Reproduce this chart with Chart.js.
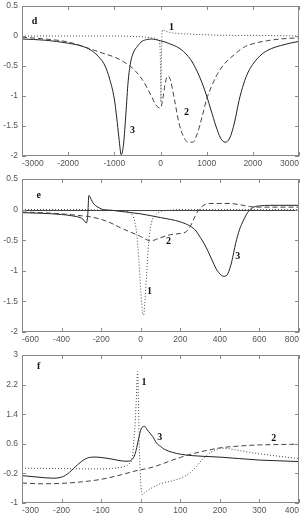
<!DOCTYPE html>
<html>
<head>
<meta charset="utf-8">
<script src="https://cdn.jsdelivr.net/npm/chart.js@4/dist/chart.umd.min.js"></script>
<style>
body{margin:0;background:#fff;width:305px;height:519px;overflow:hidden;position:relative}
.p{position:absolute;left:0;width:305px}
</style>
</head>
<body>
<div class="p" style="top:0;height:170px"><canvas id="cd"></canvas></div>
<div class="p" style="top:173px;height:173px"><canvas id="ce"></canvas></div>
<div class="p" style="top:349px;height:168px"><canvas id="cf"></canvas></div>
<script>
// panel d
const dTicksX = [-3000, -2000, -1000, 0, 1000, 2000, 3000];
const dTicksY = [-2, -1.5, -1, -0.5, 0, 0.5];
const d1x = [-3000, -1000, -500, -300, -200, -100, -50, -20, 0, 10, 20, 30, 40, 60, 100, 200, 400, 700, 1000, 1500, 2000, 3000];
const d1y = [0, 0, -0.01, -0.02, -0.03, -0.04, -0.06, -0.1, -0.5, -1.1, -0.4, 0, 0.1, 0.1, 0.085, 0.06, 0.04, 0.03, 0.02, 0.01, 0.01, 0];
const d2x = [-3000, -2500, -2000, -1500, -1200, -1000, -800, -600, -400, -300, -200, -100, -50, 0, 50, 100, 150, 200, 300, 400, 500, 600, 700, 800, 900, 1000, 1100, 1200, 1300, 1400, 1600, 1800, 2000, 2300, 2600, 3000];
const d2y = [-0.02, -0.05, -0.1, -0.22, -0.3, -0.35, -0.43, -0.54, -0.72, -0.85, -1.0, -1.15, -1.19, -1.2, -1.05, -0.8, -0.67, -0.7, -1.05, -1.45, -1.68, -1.77, -1.77, -1.62, -1.35, -1.05, -0.85, -0.68, -0.55, -0.45, -0.31, -0.19, -0.13, -0.08, -0.05, -0.03];
const d3x = [-3000, -2500, -2000, -1700, -1500, -1300, -1200, -1100, -1000, -950, -900, -850, -800, -750, -700, -650, -600, -500, -400, -300, -200, -100, 0, 100, 200, 300, 400, 500, 600, 700, 800, 900, 1000, 1100, 1200, 1300, 1400, 1500, 1600, 1700, 1800, 1900, 2000, 2200, 2400, 2600, 2800, 3000];
const d3y = [-0.05, -0.07, -0.12, -0.17, -0.24, -0.38, -0.5, -0.72, -1.05, -1.35, -1.7, -1.98, -1.8, -1.3, -0.75, -0.45, -0.3, -0.17, -0.09, -0.06, -0.05, -0.06, -0.08, -0.1, -0.13, -0.16, -0.2, -0.26, -0.34, -0.45, -0.6, -0.78, -1.0, -1.25, -1.5, -1.7, -1.77, -1.7, -1.45, -1.08, -0.8, -0.6, -0.47, -0.3, -0.21, -0.16, -0.12, -0.09];

// panel e
const eTicksX = [-600, -400, -200, 0, 200, 400, 600, 800];
const eTicksY = [-2, -1.5, -1, -0.5, 0, 0.5];
const e1x = [-600, -300, -200, -100, -60, -40, -30, -20, -10, 0, 10, 15, 20, 30, 40, 50, 60, 80, 100, 150, 200, 300, 800];
const e1y = [0, 0, -0.01, -0.02, -0.04, -0.1, -0.2, -0.4, -0.8, -1.3, -1.7, -1.72, -1.55, -1.05, -0.55, -0.28, -0.16, -0.07, -0.03, -0.01, 0, 0, 0];
const e2x = [-600, -500, -400, -300, -250, -200, -150, -100, -50, 0, 50, 100, 150, 200, 230, 250, 270, 290, 310, 330, 350, 400, 450, 500, 550, 600, 700, 800];
const e2y = [-0.04, -0.05, -0.07, -0.1, -0.12, -0.16, -0.22, -0.3, -0.37, -0.44, -0.51, -0.46, -0.41, -0.39, -0.36, -0.28, -0.14, -0.02, 0.05, 0.09, 0.1, 0.1, 0.1, 0.08, 0.05, 0.04, 0.04, 0.04];
const e3x = [-600, -500, -400, -350, -300, -285, -275, -268, -262, -255, -245, -230, -210, -190, -150, -100, 0, 100, 150, 200, 250, 280, 300, 320, 340, 360, 380, 400, 420, 440, 460, 480, 500, 520, 540, 560, 580, 600, 650, 700, 800];
const e3y = [-0.05, -0.06, -0.08, -0.1, -0.14, -0.18, -0.22, -0.1, 0.23, 0.2, 0.13, 0.07, 0.03, 0, -0.01, -0.03, -0.07, -0.13, -0.16, -0.2, -0.27, -0.35, -0.45, -0.55, -0.68, -0.82, -0.96, -1.05, -1.09, -1.05, -0.85, -0.55, -0.32, -0.17, -0.05, 0.02, 0.05, 0.06, 0.07, 0.07, 0.07];

// panel f
const fTicksX = [-300, -200, -100, 0, 100, 200, 300, 400];
const fTicksY = [-1, -0.2, 0.6, 1.4, 2.2, 3];
const f1x = [-300, -200, -100, -60, -40, -30, -20, -18, -15, -12, -10, -8, -6, -4, -2, 0, 2, 4, 8, 15, 30, 50, 80, 100, 120, 140, 155, 180, 205, 238, 280, 322, 360, 400];
const f1y = [-0.06, -0.07, -0.08, -0.05, -0.01, 0.05, 0.3, 0.6, 1.0, 1.6, 2.1, 2.55, 1.9, 0.8, 0, -0.45, -0.7, -0.78, -0.74, -0.68, -0.58, -0.48, -0.4, -0.33, -0.22, -0.02, 0.17, 0.39, 0.48, 0.44, 0.36, 0.3, 0.25, 0.2];
const f2x = [-300, -250, -200, -150, -100, -50, -20, 0, 20, 50, 80, 100, 120, 150, 180, 200, 250, 300, 350, 400];
const f2y = [-0.46, -0.48, -0.47, -0.43, -0.36, -0.24, -0.15, -0.1, -0.06, 0.04, 0.16, 0.23, 0.3, 0.38, 0.45, 0.49, 0.54, 0.57, 0.58, 0.59];
const f3x = [-300, -270, -240, -220, -200, -190, -180, -170, -160, -150, -140, -130, -120, -110, -100, -80, -60, -40, -30, -20, -15, -10, -5, 0, 5, 10, 15, 20, 30, 40, 50, 60, 80, 100, 130, 160, 200, 250, 300, 350, 400];
const f3y = [-0.26, -0.29, -0.32, -0.33, -0.3, -0.25, -0.17, -0.07, 0.03, 0.12, 0.19, 0.23, 0.24, 0.24, 0.23, 0.2, 0.16, 0.13, 0.13, 0.2, 0.3, 0.5, 0.75, 0.97, 1.06, 1.07, 1.0, 0.93, 0.8, 0.62, 0.53, 0.45, 0.37, 0.32, 0.28, 0.26, 0.24, 0.2, 0.16, 0.14, 0.12];

const frame = {
    id: 'frame',
    beforeDatasetsDraw(chart, args, opts) {
        if (!opts.zero) return;
        const {ctx, chartArea: a, scales: {y}} = chart;
        const py = Math.round(y.getPixelForValue(0)) + 0.5;
        ctx.save();
        ctx.strokeStyle = '#444';
        ctx.lineWidth = 1;
        ctx.beginPath(); ctx.moveTo(a.left, py); ctx.lineTo(a.right, py); ctx.stroke();
        ctx.restore();
    },
    afterDatasetsDraw(chart, args, opts) {
        const {ctx, chartArea: a, scales: {x, y}} = chart;
        ctx.save();
        ctx.strokeStyle = '#888';
        ctx.lineWidth = 1;
        ctx.strokeRect(a.left + 0.5, a.top + 0.5, a.right - a.left - 1, a.bottom - a.top - 1);
        ctx.beginPath();
        x.ticks.forEach(t => {
            const px = Math.round(x.getPixelForValue(t.value)) + 0.5;
            ctx.moveTo(px, a.bottom); ctx.lineTo(px, a.bottom - 4);
            ctx.moveTo(px, a.top); ctx.lineTo(px, a.top + 4);
        });
        y.ticks.forEach(t => {
            const py = Math.round(y.getPixelForValue(t.value)) + 0.5;
            ctx.moveTo(a.left, py); ctx.lineTo(a.left + 4, py);
            ctx.moveTo(a.right, py); ctx.lineTo(a.right - 4, py);
        });
        ctx.stroke();
        ctx.fillStyle = '#111';
        ctx.font = 'bold 10px "Liberation Serif"';
        ctx.textAlign = 'center';
        ctx.textBaseline = 'middle';
        opts.notes.forEach(n => ctx.fillText(n[0], x.getPixelForValue(n[1]), y.getPixelForValue(n[2])));
        ctx.restore();
    }
};

function series(xs, ys, dash, color) {
    return {
        data: xs.map((v, i) => ({x: v, y: ys[i]})),
        borderColor: color,
        borderWidth: 1,
        borderDash: dash,
        pointRadius: 0,
        cubicInterpolationMode: 'monotone',
        fill: false
    };
}

function axis(ticks, pos) {
    return {
        type: 'linear',
        position: pos,
        min: ticks[0],
        max: ticks[ticks.length - 1],
        afterBuildTicks: s => { s.ticks = ticks.map(v => ({value: v})); },
        afterFit: s => {
            if (pos === 'left') s.width = 22; else s.height = 14;
            s.paddingLeft = 0; s.paddingRight = 0; s.paddingTop = 0; s.paddingBottom = 0;
        },
        grid: {display: false, drawTicks: false},
        border: {display: false},
        ticks: {
            color: '#555',
            padding: pos === 'left' ? 4 : 3,
            align: pos === 'left' ? 'center' : 'inner',
            font: {family: '"Liberation Sans"', size: 8.5},
            maxRotation: 0,
            autoSkip: false,
            callback: v => String(v)
        }
    };
}

function panel(id, sets, tx, ty, notes, zero) {
    let ctx = document.getElementById(id).getContext('2d');
    new Chart(ctx, {
        type: 'line',
        data: {datasets: sets},
        options: {
            responsive: true,
            maintainAspectRatio: false,
            animation: false,
            layout: {padding: {left: 0, right: 6, top: 6, bottom: 0}},
            scales: {x: axis(tx, 'bottom'), y: axis(ty, 'left')},
            plugins: {
                legend: {display: false},
                tooltip: {enabled: false},
                frame: {notes: notes, zero: zero}
            }
        },
        plugins: [frame]
    });
}

panel('cd', [
    series(d1x, d1y, [1, 2], '#444'),
    series(d2x, d2y, [5, 3], '#444'),
    series(d3x, d3y, [], '#222')
], dTicksX, dTicksY, [['d', -2728, 0.25], ['1', 238, 0.15], ['2', 563, -1.28], ['3', -606, -1.58]], false);

panel('ce', [
    series(e1x, e1y, [1, 2], '#444'),
    series(e2x, e2y, [5, 3], '#444'),
    series(e3x, e3y, [], '#222')
], eTicksX, eTicksY, [['e', -515, 0.23], ['1', 45, -1.33], ['2', 141, -0.52], ['3', 490, -0.76]], true);

panel('cf', [
    series(f1x, f1y, [1, 2], '#444'),
    series(f2x, f2y, [5, 3], '#444'),
    series(f3x, f3y, [], '#222')
], fTicksX, fTicksY, [['f', -258, 2.68], ['1', 8, 2.25], ['2', 336, 0.74], ['3', 48, 0.76]], false);
</script>
</body>
</html>
